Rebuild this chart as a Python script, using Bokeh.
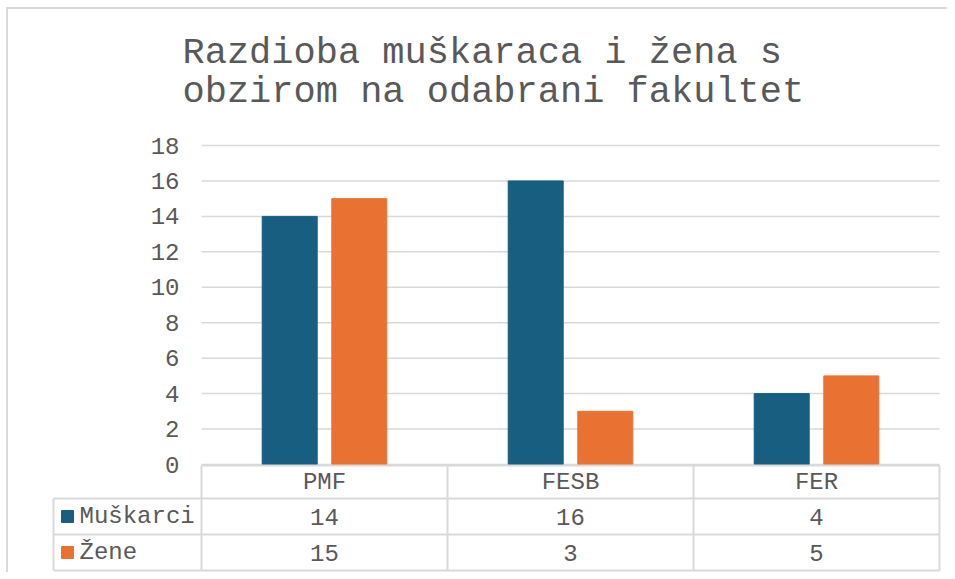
from bokeh.plotting import figure
from bokeh.models import Range1d, FixedTicker, Title, ColumnDataSource
from bokeh.layouts import column
from bokeh.embed import file_html
from bokeh.resources import INLINE
from bokeh.core.properties import value

# ---------------- data ----------------
categories = ["PMF", "FESB", "FER"]
muskarci = [14, 16, 4]
zene = [15, 3, 5]
series_names = ["Muškarci", "Žene"]
y_ticks = [0, 2, 4, 6, 8, 10, 12, 14, 16, 18]
title_lines = ["Razdioba muškaraca i žena s", "obzirom na odabrani fakultet"]

# ---------------- style ----------------
FONT = "Liberation Mono"
TEXT = "#595959"
GRID = "#d9d9d9"
BLUE = "#175E80"
ORANGE = "#E97132"

# geometry (page pixels) used to set up the ranges
OX, OY = 8, 9            # figure origin on the page
W, H = 939, 563
FRAME_L, FRAME_R, FRAME_T, FRAME_B = 51, 941, 130, 572
PLOT_L = 201             # where category area starts (x = 0)
BAND = 246.0             # px per category
ZERO_Y = 464             # px of y = 0
UNIT = 319 / 18.0        # px per y unit


def dx(px):
    return (px - PLOT_L) / BAND


def dy(py):
    return (ZERO_Y - py) / UNIT


p = figure(width=W, height=H,
           x_range=Range1d(dx(FRAME_L), dx(FRAME_R)),
           y_range=Range1d(dy(FRAME_B), dy(FRAME_T)),
           title=None, output_backend="svg", toolbar_location=None,
           min_border_left=FRAME_L - OX, min_border_right=OX + W - FRAME_R,
           min_border_top=FRAME_T - OY, min_border_bottom=0,
           outline_line_color=None, x_axis_type=None)
p.grid.visible = False

n = len(categories)
x_center = [i + 0.5 for i in range(n)]
BAR_OFF = 0.1415
BAR_W = 0.2236

# grid lines (only across the category area)
p.segment(x0=[0] * len(y_ticks), x1=[n] * len(y_ticks), y0=y_ticks, y1=y_ticks,
          line_color=GRID, line_width=1.5)

src = ColumnDataSource(dict(x_m=[c - BAR_OFF for c in x_center],
                            x_z=[c + BAR_OFF for c in x_center],
                            m=muskarci, z=zene))
p.vbar(x="x_m", top="m", width=BAR_W, source=src, fill_color=BLUE, line_color=BLUE)
p.vbar(x="x_z", top="z", width=BAR_W, source=src, fill_color=ORANGE, line_color=ORANGE)

ax = p.yaxis[0]
ax.fixed_location = 0
ax.ticker = FixedTicker(ticks=y_ticks)
ax.axis_line_color = None
ax.major_tick_line_color = None
ax.minor_tick_line_color = None
ax.major_tick_out = 0
ax.major_tick_in = 0
ax.major_label_standoff = 22
ax.major_label_text_font = FONT
ax.major_label_text_font_size = "24px"
ax.major_label_text_color = TEXT

title = Title(text="\n".join(title_lines), align="left", offset=131, standoff=35,
              text_font=FONT, text_font_size="37px", text_color=TEXT,
              text_font_style="normal", text_line_height=0.92)
p.add_layout(title, "above")

# ---------------- data table below the plot ----------------
row_lines = [dy(465), dy(498), dy(534), dy(570)]
label_left = dx(53)
bounds = list(range(n + 1))

# horizontal lines
p.segment(x0=[0] + [label_left] * 3, x1=[n] * 4, y0=row_lines, y1=row_lines,
          line_color=GRID, line_width=2)
# vertical lines
p.segment(x0=[label_left] + bounds, x1=[label_left] + bounds,
          y0=[row_lines[3]] * (n + 2), y1=[row_lines[1]] + [row_lines[0]] * (n + 1),
          line_color=GRID, line_width=2)

row_c = [(row_lines[i] + row_lines[i + 1]) / 2 for i in range(3)]
txt = dict(text_font=value(FONT), text_font_size="24px", text_color=TEXT,
           text_baseline="middle")
p.text(x=x_center, y=[row_c[0]] * n, text=categories, text_align="center", **txt)
p.text(x=x_center, y=[row_c[1]] * n, text=[str(v) for v in muskarci], text_align="center", **txt)
p.text(x=x_center, y=[row_c[2]] * n, text=[str(v) for v in zene], text_align="center", **txt)

p.scatter(x=[dx(67)] * 2, y=[row_c[1], row_c[2]], marker="square", size=12,
          fill_color=[BLUE, ORANGE], line_color=[BLUE, ORANGE])
p.text(x=[dx(79)] * 2, y=[row_c[1], row_c[2]], text=series_names, text_align="left", **txt)

layout = column(p, margin=(OY - 2, 0, 0, OX - 2),
                styles={"border-left": "2px solid #d9d9d9",
                        "border-top": "2px solid #d9d9d9"})

open("out.html", "w").write(file_html(layout, INLINE))
